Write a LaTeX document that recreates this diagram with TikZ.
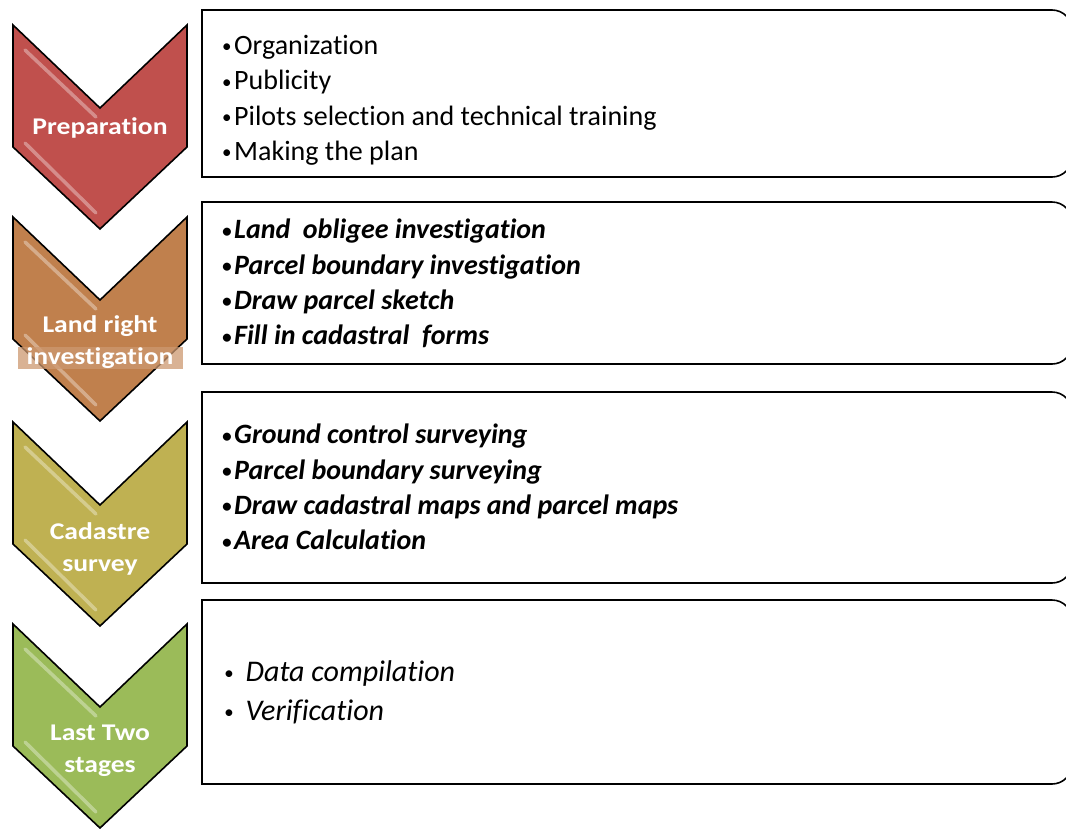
\documentclass[tikz,border=0pt]{standalone}
\usepackage{fontspec}
\setmainfont{Carlito}[Ligatures=NoCommon]
\newfontfamily\chevfont{Carlito}[FakeStretch=1.15,Ligatures=NoCommon]
\definecolor{cRed}{RGB}{192,80,77}
\definecolor{cOrange}{RGB}{192,128,77}
\definecolor{cOlive}{RGB}{191,177,82}
\definecolor{cGreen}{RGB}{155,187,89}
\tikzset{
  chevshape/.style={draw=black, line width=1.6pt, line join=miter},
  gloss/.style={draw=white, opacity=0.35, line width=3.5pt, line cap=round},
  chevlabel/.style={text=white, font=\chevfont\bfseries\fontsize{24}{32}\selectfont, align=center, inner sep=1pt},
  itembox/.style={draw=black, line width=1.6pt, fill=white},
  itemtext/.style={anchor=north west, align=left, inner sep=0pt, font=\fontsize{28}{35.3}\selectfont}
}
\newcommand{\bul}{\raisebox{1.5pt}{\fontsize{19}{19}\selectfont •}\hspace{2.5pt}}
\newcommand{\bulw}{\raisebox{1.5pt}{\fontsize{19}{19}\selectfont •}\hspace{12pt}}
\newcommand{\chevron}[3]{% top y, color, name
  \path[chevshape, fill=#2] (13,#1) -- (100,#1+83) -- (187,#1) -- (187,#1+122) -- (100,#1+204) -- (13,#1+122) -- cycle;
  \draw[gloss] (25,#1+25) -- (96,#1+92);
  \draw[gloss] (25,#1+118) -- (96,#1+188);
}
\newcommand{\itemframe}[3]{% top, bottom, name
  \draw[itembox] (202,#1) -- (1052,#1) to[out=0,in=90] (1072,#1+20) -- (1072,#2-20) to[out=-90,in=0] (1052,#2) -- (202,#2) -- cycle;
}
\begin{document}
\begin{tikzpicture}[x=1pt,y=-1pt]
\clip (0,0) rectangle (1066,828);
\fill[white] (0,0) rectangle (1066,828);
% boxes
\itemframe{10}{177}{b1}
\itemframe{202}{364}{b2}
\itemframe{392}{583}{b3}
\itemframe{600}{784}{b4}
% chevrons
\chevron{25}{cRed}{c1}
\chevron{217}{cOrange}{c2}
\chevron{422}{cOlive}{c3}
\chevron{624}{cGreen}{c4}
% chevron labels
\node[chevlabel] (l1) at (100,128) {Preparation};
\node[chevlabel] (l2a) at (100,326) {Land right};
\node[chevlabel, fill=cOrange!80!white, fill opacity=0.75, text opacity=1, minimum width=165pt] (l2b) at (100,358) {investigation};
\node[chevlabel] (l3) at (100,549) {Cadastre\\survey};
\node[chevlabel] (l4) at (100,751) {Last Two\\stages};
% box texts
\node[itemtext] (t1) at (222,35) {\bul Organization\\\bul Publicity\\\bul Pilots selection and technical training\\\bul Making the plan};
\node[itemtext, font=\fontsize{28}{35.3}\selectfont\bfseries\itshape] (t2) at (222,219) {\bul Land\ \ obligee investigation\\\bul Parcel boundary investigation\\\bul Draw parcel sketch\\\bul Fill in cadastral\ \ forms};
\node[itemtext, font=\fontsize{28}{35.3}\selectfont\bfseries\itshape] (t3) at (222,424) {\bul Ground control surveying\\\bul Parcel boundary surveying\\\bul Draw cadastral maps and parcel maps\\\bul Area Calculation};
\node[itemtext, font=\fontsize{30}{39}\selectfont\itshape] (t4) at (224,660) {\bulw Data compilation\\\bulw Verification};
\end{tikzpicture}
\end{document}
